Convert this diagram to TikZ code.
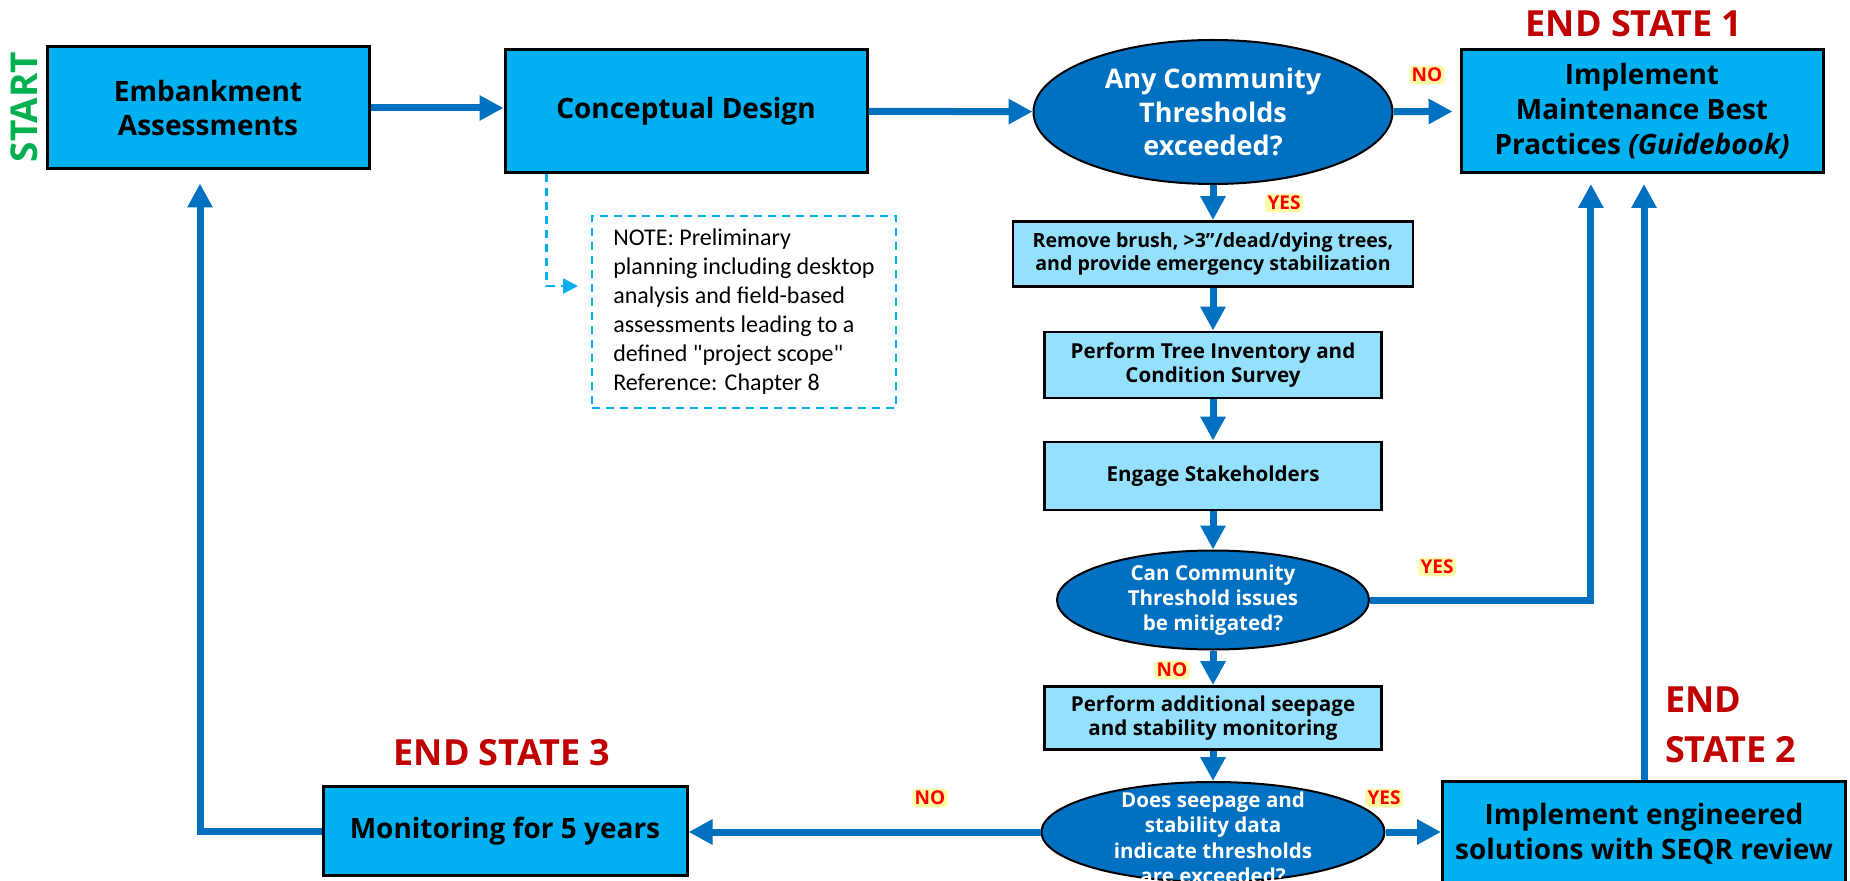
\documentclass[tikz,border=0pt]{standalone}
\usepackage{fontspec}
\setmainfont{Open Sans}
\newfontfamily\notefont{Carlito}
\usetikzlibrary{arrows.meta,shapes.geometric,calc}

\definecolor{boxblue}{HTML}{00B0F0}
\definecolor{lightblue}{HTML}{95E1FD}
\definecolor{darkblue}{HTML}{0070C0}
\definecolor{endred}{HTML}{C00000}
\definecolor{startgreen}{HTML}{00B050}

\tikzset{
  mainbox/.style={draw=black, line width=1.5pt, fill=boxblue, align=center, inner sep=0pt,
    font=\bfseries\fontsize{14}{17.3}\selectfont},
  smallbox/.style={draw=black, line width=1.4pt, fill=lightblue, align=center, inner sep=0pt,
    font=\bfseries\fontsize{10.3}{11.8}\selectfont},
  question/.style={ellipse, draw=black, line width=1pt, fill=darkblue, inner sep=0pt},
  qtext/.style={text=white, align=center, inner sep=0pt},
  flow/.style={draw=darkblue, line width=3.5pt, -{Triangle[length=12pt,width=12pt]}},
  answer/.style={text=red, fill=yellow!35, inner sep=1.2pt, rounded corners=2pt,
    font=\bfseries\fontsize{9.5}{10}\selectfont},
  endlabel/.style={text=endred, font=\bfseries\fontsize{18}{25}\selectfont},
}

\begin{document}
\begin{tikzpicture}[x=0.5pt,y=-0.5pt]
\useasboundingbox (0,0) rectangle (1850,881);

\node[rotate=90, text=startgreen, font=\bfseries\fontsize{18.5}{20}\selectfont] (start) at (24,107) {START};
\node[mainbox, minimum width=161pt, minimum height=61pt] (emb) at (208,108) {Embankment\\Assessments};
\node[mainbox, minimum width=181pt, minimum height=61.5pt] (concept) at (686,111) {Conceptual Design};
\node[question, minimum width=179.5pt, minimum height=72pt,
  label={[qtext, font=\bfseries\fontsize{13.5}{16.8}\selectfont]center:Any Community\\Thresholds\\exceeded?}] (q1) at (1213,112) {};
\node[mainbox, minimum width=181pt, minimum height=61.5pt] (end1) at (1642,111) {Implement\\Maintenance Best\\Practices \textit{(Guidebook)}};
\node[endlabel] (endlab1) at (1634,24) {END STATE 1};

\node[draw=boxblue, line width=1pt, dash pattern=on 4pt off 3pt, minimum width=152pt, minimum height=96pt,
  align=left, font=\notefont\fontsize{12}{14.5}\selectfont] (note) at (744,312)
  {NOTE: Preliminary\\planning including desktop\\analysis and field-based\\assessments leading to a\\defined "project scope"\\Reference: Chapter 8};

\node[smallbox, minimum width=200pt, minimum height=32.5pt, font=\bfseries\fontsize{9.8}{11.8}\selectfont] (remove) at (1213,254) {Remove brush, >3”/dead/dying trees,\\and provide emergency stabilization};
\node[smallbox, minimum width=168.5pt, minimum height=33pt] (survey) at (1213,365) {Perform Tree Inventory and\\Condition Survey};
\node[smallbox, minimum width=168.5pt, minimum height=34pt] (engage) at (1213,476) {Engage Stakeholders};
\node[question, minimum width=156pt, minimum height=49.5pt,
  label={[qtext, font=\bfseries\fontsize{10.3}{12.5}\selectfont]center:Can Community\\Threshold issues\\be mitigated?}] (q2) at (1213,600) {};
\node[smallbox, minimum width=168.5pt, minimum height=31.5pt] (seepage) at (1213,718) {Perform additional seepage\\and stability monitoring};
\node[question, minimum width=171.5pt, minimum height=50pt,
  label={[qtext, yshift=-3pt, font=\bfseries\fontsize{10.3}{12.75}\selectfont]center:Does seepage and\\stability data\\indicate thresholds\\are exceeded?}] (q3) at (1213,832) {};

\node[mainbox, minimum width=201.5pt, minimum height=53pt] (end2) at (1644,834) {Implement engineered\\solutions with SEQR review};
\node[endlabel, align=left, anchor=west] (endlab2) at (1658,725) {END\\STATE 2};
\node[mainbox, minimum width=182pt, minimum height=44.5pt] (monitor) at (505,831) {Monitoring for 5 years};
\node[endlabel] (endlab3) at (502,753) {END STATE 3};

\node[answer] (no1) at (1427,75) {NO};
\node[answer] (yes1) at (1284,203) {YES};
\node[answer] (yes2) at (1437,567) {YES};
\node[answer] (no2) at (1172,670) {NO};
\node[answer] (yes3) at (1384,798) {YES};
\node[answer] (no3) at (930,798) {NO};

\draw[flow] (emb.east) -- (emb.east -| concept.west);
\draw[flow] (concept) -- (q1);
\draw[flow, shorten >=3.5pt] (q1) -- (end1);
\foreach \a/\b in {q1/remove, remove/survey, survey/engage, engage/q2, q2/seepage, seepage/q3}
  \draw[flow] (\a) -- (\b);
\draw[flow, shorten >=5pt] (q2.east) -| ($(end1.south west)!0.36!(end1.south east)$);
\draw[flow, shorten >=5pt] (end2.north) -- (end2.north |- end1.south);
\draw[flow] (q3) -- (q3 -| end2.west);
\draw[flow] (q3) -- (q3 -| monitor.east);
\draw[flow, shorten >=6.5pt] (monitor.west) -| ($(emb.south)+(-8,0)$);
\draw[boxblue, line width=1.2pt, dash pattern=on 4pt off 3pt, -{Triangle[length=7.5pt,width=7.5pt]}, shorten >=6.5pt]
  ($(concept.south west)+(43,0)$) |- ($(note.west)+(0,-26)$);
\end{tikzpicture}
\end{document}
